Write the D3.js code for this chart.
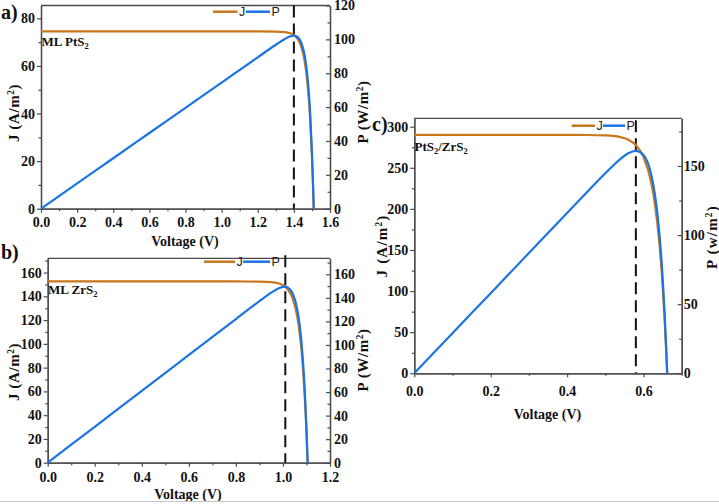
<!DOCTYPE html>
<html>
<head>
<meta charset="utf-8">
<script src="https://cdn.jsdelivr.net/npm/d3@7"></script>
<style>
  html, body { margin: 0; padding: 0; background: #fff; }
  svg { display: block; }
</style>
</head>
<body>
<svg id="chart" width="719" height="504"></svg>
<script>
// ---------- DATA ----------
// Panel a: ML PtS2
const voltageA = [0, 0.2, 0.4, 0.6, 0.8, 1.0, 1.2, 1.3, 1.35, 1.38, 1.40, 1.42, 1.44, 1.46, 1.47, 1.48, 1.49, 1.50, 1.505, 1.51];
const currentA = [74.5, 74.5, 74.5, 74.5, 74.5, 74.5, 74.5, 74.46, 74.24, 73.76, 72.99, 71.44, 68.26, 61.84, 56.45, 48.8, 37.9, 22.2, 12.1, 0];
const powerA   = [0, 14.9, 29.8, 44.7, 59.6, 74.5, 89.4, 96.8, 100.2, 101.8, 102.2, 101.4, 98.3, 90.3, 83.0, 72.2, 56.5, 33.3, 18.2, 0];
const vmpA = 1.40;

// Panel b: ML ZrS2
const voltageB = [0, 0.2, 0.4, 0.6, 0.8, 0.9, 0.95, 0.98, 1.00, 1.01, 1.02, 1.04, 1.06, 1.07, 1.08, 1.09, 1.10, 1.105];
const currentB = [152.5, 152.5, 152.5, 152.5, 152.5, 152.4, 152.0, 151.0, 149.4, 148.0, 146.0, 138.8, 123.7, 110.8, 92.1, 65.0, 25.8, 0];
const powerB   = [0, 30.5, 61.0, 91.5, 122.0, 137.2, 144.4, 148.0, 149.4, 149.5, 148.9, 144.3, 131.1, 118.6, 99.5, 70.9, 28.4, 0];
const vmpB = 1.01;

// Panel c: PtS2/ZrS2
const voltageC = [0, 0.1, 0.2, 0.3, 0.4, 0.45, 0.5, 0.52, 0.54, 0.56, 0.58, 0.60, 0.62, 0.63, 0.64, 0.65, 0.655, 0.66, 0.662];
const currentC = [290, 290, 290, 290, 290, 289.9, 289.4, 288.8, 287.3, 284.3, 277.6, 263.3, 232.3, 205.3, 165.6, 107.2, 68.4, 21.5, 0];
const powerC   = [0, 29, 58, 87, 116, 130.5, 144.7, 150.2, 155.1, 159.2, 161.0, 158.0, 144.0, 129.3, 106.0, 69.7, 44.8, 14.2, 0];
const vmpC = 0.58;

// Tick labels
const xTicksA = [0, 0.2, 0.4, 0.6, 0.8, 1.0, 1.2, 1.4, 1.6];
const jTicksA = [0, 20, 40, 60, 80];
const pTicksA = [0, 20, 40, 60, 80, 100, 120];
const xTicksB = [0, 0.2, 0.4, 0.6, 0.8, 1.0, 1.2];
const jTicksB = [0, 20, 40, 60, 80, 100, 120, 140, 160];
const pTicksB = [0, 20, 40, 60, 80, 100, 120, 140, 160];
const xTicksC = [0, 0.2, 0.4, 0.6];
const jTicksC = [0, 50, 100, 150, 200, 250, 300];
const pTicksC = [0, 50, 100, 150];

const seriesNames = ["J", "P"];
const colJ = "#c8771c";
const colP = "#1b74e4";
const axisCol = "#4a4a4a";
const serif = "'Liberation Serif', 'Times New Roman', serif";
const sans = "'Liberation Sans', Arial, sans-serif";

const svg = d3.select("#chart");

function range(a, b, s) { const r = []; for (let v = a; v <= b + 1e-9; v += s) r.push(+v.toFixed(4)); return r; }

function panel(cfg) {
  const g = svg.append("g");
  const x = d3.scaleLinear().domain(cfg.xDomain).range([cfg.left, cfg.right]);
  const yJ = d3.scaleLinear().domain([0, cfg.jMax]).range([cfg.bottom, cfg.top]);
  const yP = d3.scaleLinear().domain([0, cfg.pMax]).range([cfg.bottom, cfg.top]);

  const fs = cfg.tickFont;
  function styleAxis(sel) {
    sel.select(".domain").attr("stroke", axisCol).attr("stroke-width", 1.3);
    sel.selectAll(".tick line").attr("stroke", axisCol).attr("stroke-width", 1.2);
    sel.selectAll(".tick text").attr("fill", "#111").style("font-family", serif)
      .style("font-weight", "bold").style("font-size", fs + "px");
  }

  // minor ticks
  g.append("g").attr("transform", `translate(0,${cfg.bottom})`)
    .call(d3.axisBottom(x).tickValues(cfg.xMinor).tickSize(2.5).tickSizeOuter(0).tickFormat(""))
    .call(styleAxis);
  g.append("g").attr("transform", `translate(${cfg.left},0)`)
    .call(d3.axisLeft(yJ).tickValues(cfg.jMinor).tickSize(2.5).tickSizeOuter(0).tickFormat(""))
    .call(styleAxis);
  g.append("g").attr("transform", `translate(${cfg.right},0)`)
    .call(d3.axisRight(yP).tickValues(cfg.pMinor).tickSize(-2.5).tickSizeOuter(0).tickFormat(""))
    .call(styleAxis);

  // major axes
  g.append("g").attr("transform", `translate(0,${cfg.bottom})`)
    .call(d3.axisBottom(x).tickValues(cfg.xTicks).tickSize(4).tickSizeOuter(0)
      .tickPadding(cfg.xPad).tickFormat(d3.format(".1f")))
    .call(styleAxis);
  g.append("g").attr("transform", `translate(${cfg.left},0)`)
    .call(d3.axisLeft(yJ).tickValues(cfg.jTicks).tickSize(4).tickSizeOuter(0).tickPadding(2).tickFormat(d3.format("d")))
    .call(styleAxis);
  g.append("g").attr("transform", `translate(${cfg.right},0)`)
    .call(d3.axisRight(yP).tickValues(cfg.pTicks).tickSize(-4).tickSizeOuter(0).tickPadding(cfg.rPad).tickFormat(d3.format("d")))
    .call(styleAxis);

  // top frame
  g.append("line").attr("x1", cfg.left).attr("x2", cfg.right).attr("y1", cfg.top).attr("y2", cfg.top)
    .attr("stroke", axisCol).attr("stroke-width", 1.3);

  // dashed Vmp line
  g.append("line").attr("x1", x(cfg.vmp)).attr("x2", x(cfg.vmp))
    .attr("y1", cfg.top + cfg.dashStart).attr("y2", cfg.bottom)
    .attr("stroke", "#111").attr("stroke-width", 2).attr("stroke-dasharray", cfg.dash);

  const jData = cfg.v.map((v, i) => ({ v, y: cfg.j[i] }));
  const pData = cfg.v.map((v, i) => ({ v, y: cfg.p[i] }));
  g.append("path").datum(jData)
    .attr("d", d3.line().x(d => x(d.v)).y(d => yJ(d.y)).curve(d3.curveMonotoneX))
    .attr("fill", "none").attr("stroke", colJ).attr("stroke-width", 2.2);
  g.append("path").datum(pData)
    .attr("d", d3.line().x(d => x(d.v)).y(d => yP(d.y)).curve(d3.curveMonotoneX))
    .attr("fill", "none").attr("stroke", colP).attr("stroke-width", 2.2);

  // legend
  const L = cfg.legend;
  g.append("line").attr("x1", L.j0).attr("x2", L.j1).attr("y1", L.y).attr("y2", L.y)
    .attr("stroke", colJ).attr("stroke-width", 2.5);
  g.append("text").attr("x", L.j1 + 1.5).attr("y", L.y + 4.5).text(seriesNames[0])
    .style("font-family", sans).style("font-size", "12.5px").attr("fill", "#222");
  g.append("line").attr("x1", L.p0).attr("x2", L.p1).attr("y1", L.y).attr("y2", L.y)
    .attr("stroke", colP).attr("stroke-width", 2.5);
  g.append("text").attr("x", L.p1 + 1.5).attr("y", L.y + 4.5).text(seriesNames[1])
    .style("font-family", sans).style("font-size", "12.5px").attr("fill", "#222");

  // material annotation
  const ann = g.append("text").attr("x", cfg.ann.x).attr("y", cfg.ann.y)
    .style("font-family", serif).style("font-weight", "bold").style("font-size", cfg.ann.size + "px").attr("fill", "#111");
  cfg.ann.parts.forEach(p => {
    if (p.sub) ann.append("tspan").attr("dy", 3).style("font-size", (cfg.ann.size * 0.65) + "px").text(p.t);
    else ann.append("tspan").attr("dy", p.after ? -3 : 0).text(p.t);
  });

  // axis titles
  g.append("text").attr("x", cfg.xLabel.x).attr("y", cfg.xLabel.y).attr("text-anchor", "middle")
    .style("font-family", serif).style("font-weight", "bold").style("font-size", cfg.titleFont + "px")
    .attr("fill", "#111").text("Voltage (V)");

  function yTitle(px, py, main, unit) {
    const t = g.append("text").attr("transform", `translate(${px},${py}) rotate(-90)`)
      .attr("text-anchor", "middle")
      .style("font-family", serif).style("font-weight", "bold").style("font-size", cfg.yTitleFont + "px")
      .style("letter-spacing", cfg.yTitleSpacing + "px").attr("fill", "#111");
    t.append("tspan").text(main + " (" + unit + "/m");
    t.append("tspan").attr("dy", -5).style("font-size", (cfg.yTitleFont * 0.62) + "px").text("2");
    t.append("tspan").attr("dy", 5).text(")");
  }
  yTitle(cfg.jTitle.x, cfg.jTitle.y, "J", "A");
  yTitle(cfg.pTitle.x, cfg.pTitle.y, "P", cfg.pUnit);

  // panel letter
  g.append("text").attr("x", cfg.letter.x).attr("y", cfg.letter.y)
    .style("font-family", serif).style("font-weight", "bold").style("font-size", "20px")
    .attr("fill", "#111").text(cfg.letter.t);
}

panel({
  left: 41, right: 330, top: 5.5, bottom: 208.7,
  xDomain: [0, 1.6], jMax: 85.4, pMax: 120,
  xTicks: xTicksA, jTicks: jTicksA, pTicks: pTicksA,
  xMinor: range(0.1, 1.5, 0.2), jMinor: range(10, 80, 20), pMinor: range(10, 110, 20),
  v: voltageA, j: currentA, p: powerA, vmp: vmpA,
  tickFont: 14, xPad: 4, rPad: 4, dash: "12,6", dashStart: 0,
  legend: { y: 11.7, j0: 213, j1: 237.5, p0: 246, p1: 270 },
  ann: { x: 41.5, y: 46, size: 13, parts: [{ t: "ML PtS" }, { t: "2", sub: true }] },
  xLabel: { x: 185, y: 246 }, titleFont: 14,
  jTitle: { x: 19, y: 113 }, pTitle: { x: 368, y: 112 }, pUnit: "W",
  yTitleFont: 15, yTitleSpacing: 0.6,
  letter: { x: 1, y: 19, t: "a)" }
});

panel({
  left: 47.7, right: 330, top: 258.3, bottom: 462.7,
  xDomain: [0, 1.2], jMax: 172, pMax: 173.6,
  xTicks: xTicksB, jTicks: jTicksB, pTicks: pTicksB,
  xMinor: range(0.1, 1.1, 0.2), jMinor: range(10, 170, 20), pMinor: range(10, 170, 20),
  v: voltageB, j: currentB, p: powerB, vmp: vmpB,
  tickFont: 14, xPad: 5, rPad: 4, dash: "12,6", dashStart: -3,
  legend: { y: 261.7, j0: 204, j1: 235, p0: 243, p1: 270 },
  ann: { x: 48, y: 294, size: 13, parts: [{ t: "ML ZrS" }, { t: "2", sub: true }] },
  xLabel: { x: 188, y: 499 }, titleFont: 14,
  jTitle: { x: 19, y: 372 }, pTitle: { x: 368, y: 360 }, pUnit: "W",
  yTitleFont: 15, yTitleSpacing: 0.6,
  letter: { x: 1, y: 259, t: "b)" }
});

panel({
  left: 414.3, right: 681.7, top: 118.3, bottom: 373.3,
  xDomain: [0, 0.7], jMax: 310.2, pMax: 184.5,
  xTicks: xTicksC, jTicks: jTicksC, pTicks: pTicksC,
  xMinor: range(0.1, 0.7, 0.2), jMinor: range(25, 300, 50), pMinor: range(25, 175, 50),
  v: voltageC, j: currentC, p: powerC, vmp: vmpC,
  tickFont: 14, xPad: 9, rPad: 2, dash: "12,6", dashStart: 2,
  legend: { y: 125.7, j0: 571.7, j1: 595, p0: 603, p1: 625 },
  ann: { x: 414.5, y: 151, size: 13, parts: [{ t: "PtS" }, { t: "2", sub: true }, { t: "/ZrS", after: true }, { t: "2", sub: true }] },
  xLabel: { x: 547.5, y: 419 }, titleFont: 14,
  jTitle: { x: 387, y: 246 }, pTitle: { x: 717, y: 237 }, pUnit: "w",
  yTitleFont: 15, yTitleSpacing: 1.2,
  letter: { x: 372, y: 131, t: "c)" }
});

// bottom separator line
svg.append("line").attr("x1", 0).attr("x2", 719).attr("y1", 501.5).attr("y2", 501.5)
  .attr("stroke", "#c8c8cc").attr("stroke-width", 1);
</script>
</body>
</html>
